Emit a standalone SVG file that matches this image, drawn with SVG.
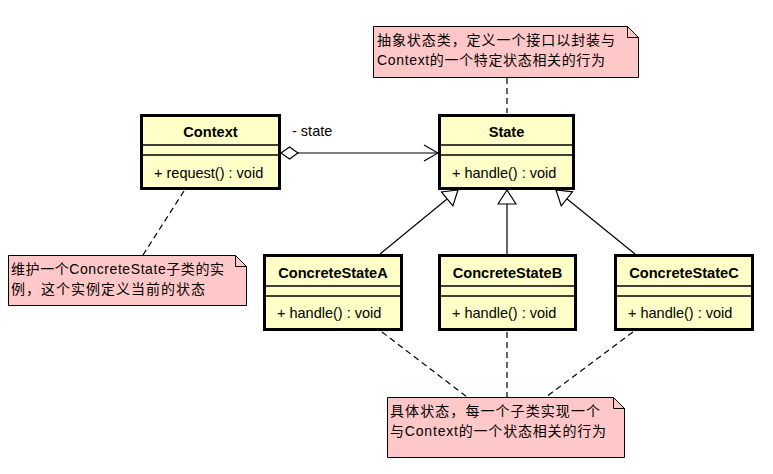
<svg xmlns="http://www.w3.org/2000/svg" width="773" height="474" viewBox="0 0 773 474">
<style>
.cls{fill:#FFFFC8;stroke:#000;stroke-width:3}
.div{stroke:#000;stroke-width:1.5}
.title{font-family:"Liberation Sans",Arial,sans-serif;font-size:14.6px;font-weight:bold;text-anchor:middle;fill:#000}
.op{font-family:"Liberation Sans",Arial,sans-serif;font-size:14.5px;fill:#000}
.note{fill:#FFC8C8;stroke:#000;stroke-width:1}
.fold{fill:none;stroke:#000;stroke-width:1}
.nt{font-family:"Liberation Sans","Noto Sans CJK SC",sans-serif;font-size:14px;fill:#000}
.solid{fill:none;stroke:#000;stroke-width:1.2}
.dash{fill:none;stroke:#000;stroke-width:1.2;stroke-dasharray:6,4}
</style>
<defs>
<marker id="gen" markerUnits="userSpaceOnUse" markerWidth="16" markerHeight="20" viewBox="0 0 16 20" refX="15" refY="10" orient="auto">
<path d="M15,10 L1,1 L1,19 Z" fill="#fff" stroke="#000" stroke-width="1.2"/>
</marker>
<marker id="open" markerUnits="userSpaceOnUse" markerWidth="16" markerHeight="20" viewBox="0 0 16 20" refX="15" refY="10" orient="auto">
<path d="M1,2 L15,10 L1,18" fill="none" stroke="#000" stroke-width="1.2"/>
</marker>
<marker id="agg" markerUnits="userSpaceOnUse" markerWidth="20" markerHeight="14" viewBox="0 0 20 14" refX="1" refY="7" orient="auto">
<path d="M1,7 L9.5,1 L18,7 L9.5,13 Z" fill="#fff" stroke="#000" stroke-width="1.2"/>
</marker>
</defs>

<g id="connectors">
<line class="solid" x1="281" y1="153" x2="438" y2="153" marker-start="url(#agg)" marker-end="url(#open)"/>
<text class="op" x="292" y="136">- state</text>
<line class="solid" x1="380" y1="254" x2="458" y2="190" marker-end="url(#gen)"/>
<line class="solid" x1="507" y1="254" x2="507" y2="190" marker-end="url(#gen)"/>
<line class="solid" x1="635" y1="254" x2="556" y2="190" marker-end="url(#gen)"/>
<line class="dash" x1="507" y1="78" x2="507" y2="113"/>
<line class="dash" x1="184" y1="191" x2="143" y2="255"/>
<line class="dash" x1="382" y1="332" x2="467" y2="397"/>
<line class="dash" x1="507" y1="332" x2="507" y2="397"/>
<line class="dash" x1="633" y1="332" x2="546" y2="397"/>
</g>

<g id="Context">
<rect class="cls" x="141.5" y="115.5" width="138" height="73"/>
<line class="div" x1="141.5" y1="145" x2="279.5" y2="145"/>
<line class="div" x1="141.5" y1="155" x2="279.5" y2="155"/>
<text class="title" x="210.5" y="137">Context</text>
<text class="op" x="154" y="178">+ request() : void</text>
</g>

<g id="State">
<rect class="cls" x="439.5" y="115.5" width="134" height="73"/>
<line class="div" x1="439.5" y1="145" x2="573.5" y2="145"/>
<line class="div" x1="439.5" y1="155" x2="573.5" y2="155"/>
<text class="title" x="506.5" y="137">State</text>
<text class="op" x="452" y="178">+ handle() : void</text>
</g>

<g id="ConcreteStateA">
<rect class="cls" x="264.5" y="255.5" width="137" height="74"/>
<line class="div" x1="264.5" y1="286" x2="401.5" y2="286"/>
<line class="div" x1="264.5" y1="296" x2="401.5" y2="296"/>
<text class="title" x="333" y="278">ConcreteStateA</text>
<text class="op" x="277" y="318">+ handle() : void</text>
</g>

<g id="ConcreteStateB">
<rect class="cls" x="439.5" y="255.5" width="136" height="74"/>
<line class="div" x1="439.5" y1="286" x2="575.5" y2="286"/>
<line class="div" x1="439.5" y1="296" x2="575.5" y2="296"/>
<text class="title" x="507.5" y="278">ConcreteStateB</text>
<text class="op" x="452" y="318">+ handle() : void</text>
</g>

<g id="ConcreteStateC">
<rect class="cls" x="615.5" y="255.5" width="137" height="74"/>
<line class="div" x1="615.5" y1="286" x2="752.5" y2="286"/>
<line class="div" x1="615.5" y1="296" x2="752.5" y2="296"/>
<text class="title" x="684" y="278">ConcreteStateC</text>
<text class="op" x="628" y="318">+ handle() : void</text>
</g>

<g id="note-state">
<path class="note" d="M373.5,26.5 H627.5 L638.5,37.5 V77.5 H373.5 Z"/>
<path class="fold" d="M627.5,26.5 V37.5 H638.5"/>
<text class="nt" x="377" y="45" textLength="238" lengthAdjust="spacing">抽象状态类，定义一个接口以封装与</text>
<text class="nt" x="377" y="65" textLength="228" lengthAdjust="spacing">Context的一个特定状态相关的行为</text>
</g>

<g id="note-context">
<path class="note" d="M8.5,255.5 H235.5 L246.5,266.5 V305.5 H8.5 Z"/>
<path class="fold" d="M235.5,255.5 V266.5 H246.5"/>
<text class="nt" x="11" y="274" textLength="213" lengthAdjust="spacing">维护一个ConcreteState子类的实</text>
<text class="nt" x="11" y="294" textLength="194" lengthAdjust="spacing">例，这个实例定义当前的状态</text>
</g>

<g id="note-concrete">
<path class="note" d="M387.5,397.5 H613.5 L624.5,408.5 V457.5 H387.5 Z"/>
<path class="fold" d="M613.5,397.5 V408.5 H624.5"/>
<text class="nt" x="390" y="416" textLength="210" lengthAdjust="spacing">具体状态，每一个子类实现一个</text>
<text class="nt" x="390" y="436" textLength="216" lengthAdjust="spacing">与Context的一个状态相关的行为</text>
</g>
</svg>
